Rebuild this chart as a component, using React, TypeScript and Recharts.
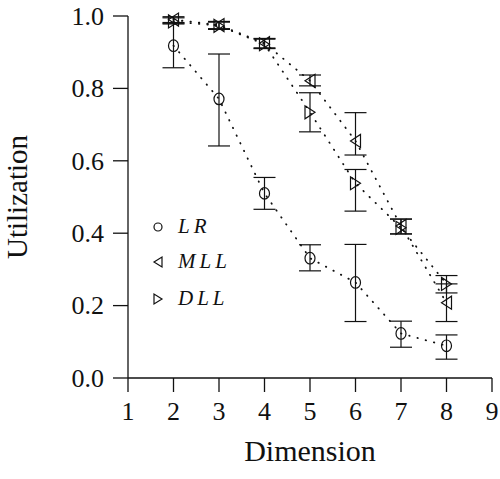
import { ErrorBar, Label, Legend, Scatter, ScatterChart, XAxis, YAxis } from 'recharts';

const dims = [2, 3, 4, 5, 6, 7, 8];
const xTicks = [1, 2, 3, 4, 5, 6, 7, 8, 9];
const yTicks = [0, 0.2, 0.4, 0.6, 0.8, 1.0];

// LR
const lrUtil = [0.918, 0.771, 0.51, 0.331, 0.264, 0.123, 0.089];
const lrLow = [0.857, 0.641, 0.466, 0.296, 0.156, 0.085, 0.052];
const lrHigh = [0.98, 0.895, 0.554, 0.368, 0.369, 0.157, 0.119];

// MLL
const mllUtil = [0.99, 0.975, 0.925, 0.821, 0.655, 0.42, 0.208];
const mllLow = [0.982, 0.965, 0.912, 0.807, 0.616, 0.398, 0.156];
const mllHigh = [0.998, 0.985, 0.938, 0.837, 0.733, 0.439, 0.26];

// DLL
const dllUtil = [0.985, 0.973, 0.922, 0.734, 0.538, 0.415, 0.26];
const dllLow = [0.978, 0.963, 0.91, 0.68, 0.461, 0.398, 0.235];
const dllHigh = [0.995, 0.983, 0.936, 0.788, 0.576, 0.439, 0.283];

const build = (util: number[], low: number[], high: number[]) =>
  dims.map((d, i) => ({ x: d, y: util[i], err: [util[i] - low[i], high[i] - util[i]] }));

const lrData = build(lrUtil, lrLow, lrHigh);
const mllData = build(mllUtil, mllLow, mllHigh);
const dllData = build(dllUtil, dllLow, dllHigh);

const FONT = 'Liberation Serif';
const INK = '#111';

// small serif sizes fall back to a sans face here, so draw big and scale down
const SText = ({ x, y, size, anchor, dy, italic, children }: any) => (
  <text
    transform={`translate(${x},${y}) scale(0.5)`}
    x={0}
    y={0}
    dy={dy}
    textAnchor={anchor}
    fontFamily={FONT}
    fontStyle={italic ? 'italic' : 'normal'}
    fontSize={size * 2}
    fill={INK}
  >
    {children}
  </text>
);

const Circle = (p: any) => (
  <ellipse cx={p.cx} cy={p.cy} rx={5} ry={5.8} fill="none" stroke={INK} strokeWidth={1.2} />
);
const TriLeft = (p: any) => (
  <path d={`M${p.cx + 5},${p.cy - 6.5}L${p.cx + 5},${p.cy + 6.5}L${p.cx - 5},${p.cy}Z`} fill="none" stroke={INK} strokeWidth={1.2} />
);
const TriRight = (p: any) => (
  <path d={`M${p.cx - 5},${p.cy - 6.5}L${p.cx - 5},${p.cy + 6.5}L${p.cx + 5},${p.cy}Z`} fill="none" stroke={INK} strokeWidth={1.2} />
);

const dotted = { stroke: INK, strokeWidth: 1.8, strokeDasharray: '0.5 8', strokeLinecap: 'round' as const };

const XTick = (p: any) => (
  <SText x={p.x} y={p.y} size={26} anchor="middle" dy="0.72em">
    {String(p.payload.value)}
  </SText>
);
const YTick = (p: any) => (
  <SText x={p.x} y={p.y} size={26} anchor="end" dy="0.34em">
    {Number(p.payload.value).toFixed(1)}
  </SText>
);

function LegendBox() {
  const items = [
    { name: 'LR', y: 17 },
    { name: 'MLL', y: 52 },
    { name: 'DLL', y: 89 },
  ];
  return (
    <svg width={110} height={105}>
      <circle cx={13} cy={items[0].y} r={4} fill="none" stroke={INK} strokeWidth={1.2} />
      <path d={`M17,${items[1].y - 5}L17,${items[1].y + 5}L9,${items[1].y}Z`} fill="none" stroke={INK} strokeWidth={1.2} />
      <path d={`M9,${items[2].y - 5}L9,${items[2].y + 5}L17,${items[2].y}Z`} fill="none" stroke={INK} strokeWidth={1.2} />
      {items.map((it) => (
        <SText key={it.name} x={33} y={it.y + 6} size={21} anchor="start" italic>
          {it.name.split('').map((c, i) => (
            <tspan key={i} dx={i === 0 ? 0 : 8}>
              {c}
            </tspan>
          ))}
        </SText>
      ))}
    </svg>
  );
}

export default function App() {
  return (
    <div style={{ position: 'absolute', left: 0, top: 0, background: '#fff' }}>
      <ScatterChart width={500} height={479} margin={{ top: 16, right: 8, bottom: 41, left: 0 }}>
        <XAxis
          xAxisId="b"
          type="number"
          dataKey="x"
          domain={[1, 9]}
          ticks={xTicks}
          interval={0}
          height={60}
          tickSize={14}
          tickMargin={9}
          stroke={INK}
          strokeWidth={1.3}
          tick={XTick}
        >
          <Label
            content={({ viewBox }: any) => (
              <text x={viewBox.x + viewBox.width / 2} y={viewBox.y + 83} textAnchor="middle" fontFamily={FONT} fontSize={30} fill={INK}>
                Dimension
              </text>
            )}
          />
        </XAxis>
        <XAxis
          xAxisId="t"
          orientation="top"
          mirror
          type="number"
          dataKey="x"
          domain={[1, 9]}
          ticks={xTicks}
          interval={0}
          height={0}
          tickSize={14}
          stroke={INK}
          strokeWidth={1.3}
          tick={false}
        />
        <YAxis
          yAxisId="l"
          type="number"
          dataKey="y"
          domain={[0, 1]}
          ticks={yTicks}
          interval={0}
          width={128}
          tickSize={15}
          tickMargin={9}
          stroke={INK}
          strokeWidth={1.3}
          tick={YTick}
        >
          <Label
            content={({ viewBox }: any) => {
              const x = viewBox.x + 27;
              const y = viewBox.y + viewBox.height / 2;
              return (
                <text x={x} y={y} transform={`rotate(-90 ${x} ${y})`} textAnchor="middle" fontFamily={FONT} fontSize={29} fill={INK}>
                  Utilization
                </text>
              );
            }}
          />
        </YAxis>
        <YAxis
          yAxisId="r"
          orientation="right"
          mirror
          type="number"
          dataKey="y"
          domain={[0, 1]}
          ticks={yTicks}
          interval={0}
          width={0}
          tickSize={14}
          stroke={INK}
          strokeWidth={1.3}
          tick={false}
        />
        <Legend
          layout="vertical"
          align="center"
          verticalAlign="middle"
          content={() => <LegendBox />}
          wrapperStyle={{ position: 'absolute', left: 145, top: 210, width: 110, height: 105 }}
        />
        <Scatter name="LR" data={lrData} xAxisId="b" yAxisId="l" shape={Circle} line={dotted} lineType="joint" isAnimationActive={false}>
          <ErrorBar dataKey="err" direction="y" width={11} stroke={INK} strokeWidth={1.2} />
        </Scatter>
        <Scatter name="MLL" data={mllData} xAxisId="b" yAxisId="l" shape={TriLeft} line={dotted} lineType="joint" isAnimationActive={false}>
          <ErrorBar dataKey="err" direction="y" width={11} stroke={INK} strokeWidth={1.2} />
        </Scatter>
        <Scatter name="DLL" data={dllData} xAxisId="b" yAxisId="l" shape={TriRight} line={dotted} lineType="joint" isAnimationActive={false}>
          <ErrorBar dataKey="err" direction="y" width={11} stroke={INK} strokeWidth={1.2} />
        </Scatter>
      </ScatterChart>
    </div>
  );
}
